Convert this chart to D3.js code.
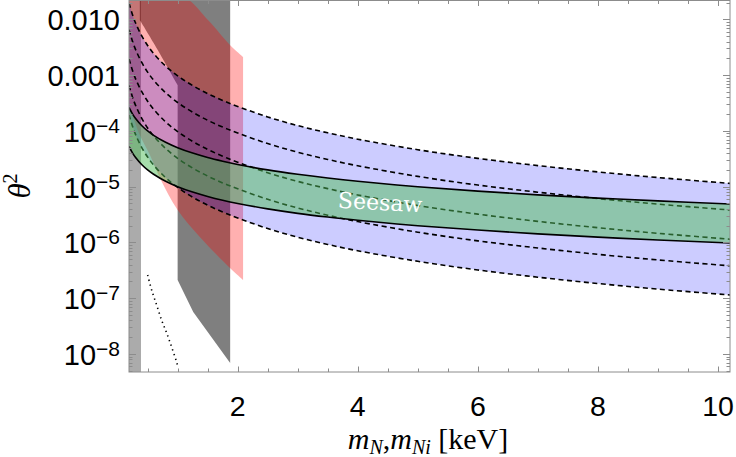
<!DOCTYPE html>
<html><head><meta charset="utf-8">
<script src="https://cdn.jsdelivr.net/npm/d3@7"></script>
<style>html,body{margin:0;padding:0;background:#fff;} svg{display:block;}</style>
</head><body><svg id="c" width="736" height="457"></svg>
<script>
// ---------------- data ----------------
const massGrid = [0.19,0.25,0.3,0.4,0.5,0.6,0.8,1.0,1.25,1.5,1.75,2,2.5,3,3.5,4,5,6,7,8,9,10.2];
const dashed1 = [0.01959,0.01194,0.00857,0.00509,0.0034,0.00244,0.00145,9.70e-4,6.49e-4,4.66e-4,3.52e-4,2.75e-4,1.78e-4,1.245e-4,9.23e-5,7.11e-5,4.60e-5,3.22e-5,2.39e-5,1.84e-5,1.46e-5,1.146e-5];
const dashed2 = [0.00653,0.00398,0.00286,0.0017,0.00113,8.13e-4,4.83e-4,3.23e-4,2.16e-4,1.55e-4,1.17e-4,9.17e-5,5.93e-5,4.15e-5,3.08e-5,2.37e-5,1.53e-5,1.07e-5,7.97e-6,6.13e-6,4.87e-6,3.82e-6];
const dashed3 = [1.959e-3,1.194e-3,8.57e-4,5.09e-4,3.40e-4,2.44e-4,1.45e-4,9.70e-5,6.49e-5,4.66e-5,3.52e-5,2.75e-5,1.78e-5,1.245e-5,9.23e-6,7.11e-6,4.60e-6,3.22e-6,2.39e-6,1.84e-6,1.46e-6,1.146e-6];
const dashed4 = [6.53e-4,3.98e-4,2.86e-4,1.70e-4,1.13e-4,8.13e-5,4.83e-5,3.23e-5,2.16e-5,1.55e-5,1.17e-5,9.17e-6,5.93e-6,4.15e-6,3.08e-6,2.37e-6,1.53e-6,1.07e-6,7.97e-7,6.13e-7,4.87e-7,3.82e-7];
const dashed5 = [1.959e-4,1.194e-4,8.57e-5,5.09e-5,3.40e-5,2.44e-5,1.45e-5,9.70e-6,6.49e-6,4.66e-6,3.52e-6,2.75e-6,1.78e-6,1.245e-6,9.23e-7,7.11e-7,4.60e-7,3.22e-7,2.39e-7,1.84e-7,1.46e-7,1.146e-7];
const seesawUpper = [2.63e-4,2.0e-4,1.67e-4,1.25e-4,1.0e-4,8.33e-5,6.25e-5,5.0e-5,4.0e-5,3.33e-5,2.86e-5,2.5e-5,2.0e-5,1.67e-5,1.43e-5,1.25e-5,1.0e-5,8.33e-6,7.14e-6,6.25e-6,5.56e-6,4.9e-6];
const seesawLower = [5.26e-5,4.0e-5,3.33e-5,2.5e-5,2.0e-5,1.67e-5,1.25e-5,1.0e-5,8.0e-6,6.67e-6,5.71e-6,5.0e-6,4.0e-6,3.33e-6,2.86e-6,2.5e-6,2.0e-6,1.67e-6,1.43e-6,1.25e-6,1.11e-6,9.8e-7];

const lightGrayBand = [0.19, 0.39];
const darkGrayShape = [[0.37,0.05],[0.37,9.7e-3],[0.62,3.47e-3],[1.0,6.64e-4],[1.0,2.13e-7],[1.26,5.67e-8],[1.875,6.9e-9],[1.875,0.05]];
const darkGrayCurved = [[0.37,9.7e-3],[0.62,3.47e-3],[1.0,6.64e-4]];
const redUpper = [[0.19,0.03],[1.1,0.025],[1.505,9.7e-3],[1.872,3.47e-3],[2.09,2.11e-3]];
const redLower = [[0.19,2.91e-4],[0.37,8.43e-5],[0.538,3.70e-5],[0.705,1.43e-5],[1.0,3.83e-6],[1.37,1.26e-6],[1.872,3.49e-7],[2.09,2.13e-7]];
const dottedLine = [[0.5,2.62e-7],[0.567,1.41e-7],[0.65,7.59e-8],[0.733,4.07e-8],[0.817,2.39e-8],[0.9,1.34e-8],[0.983,7.2e-9],[1.01,5.6e-9]];

const xTicks = [2,4,6,8,10];
const xMinorTicks = d3.range(0.5, 10.01, 0.5);
const yTicks = [1e-2,1e-3,1e-4,1e-5,1e-6,1e-7,1e-8];
const yTickBase = ["0.010","0.001","10","10","10","10","10"];
const yTickSup  = ["","","\u22124","\u22125","\u22126","\u22127","\u22128"];
const seesawLabel = "Seesaw";

// ---------------- layout ----------------
const L = 129, R = 730, T = 0.5, B = 372;
const x = d3.scaleLinear().domain([0.19, 10.2]).range([L, R]);
const y = d3.scaleLog().domain([Math.pow(10,-8.321), Math.pow(10,-1.663)]).range([B, T]);

const svg = d3.select("#c");
svg.append("defs").append("clipPath").attr("id","clip")
  .append("rect").attr("x",L).attr("y",T).attr("width",R-L).attr("height",B-T);
const g = svg.append("g").attr("clip-path","url(#clip)");

const lineCR = d3.line().x(d=>x(d[0])).y(d=>y(d[1])).curve(d3.curveCatmullRom.alpha(0.5));
const zip = arr => massGrid.map((m,i)=>[m,arr[i]]);

// light gray band
g.append("rect").attr("x",x(lightGrayBand[0])).attr("y",T)
  .attr("width",x(lightGrayBand[1])-x(lightGrayBand[0])).attr("height",B-T)
  .attr("fill","#000").attr("fill-opacity",0.33);

// dark gray shape
{
  const curved = lineCR(darkGrayCurved);
  const rest = darkGrayShape.slice(3);
  const p = "M"+x(darkGrayShape[0][0])+","+y(darkGrayShape[0][1]) + "L" + curved.slice(1) +
    rest.map(d=>"L"+x(d[0])+","+y(d[1])).join("") + "Z";
  g.append("path").attr("d",p).attr("fill","#000").attr("fill-opacity",0.5);
}

// red region
{
  const up = lineCR(redUpper);
  const lo = lineCR(redLower.slice().reverse());
  g.append("path").attr("d", up + "L" + lo.slice(1) + "Z")
    .attr("fill","rgb(255,0,0)").attr("fill-opacity",0.31);
}

// blue band between outer dashed lines
const areaCR = d3.area().x(d=>x(d[0])).y0(d=>y(d[1])).y1(d=>y(d[2])).curve(d3.curveCatmullRom.alpha(0.5));
g.append("path").attr("d", areaCR(massGrid.map((m,i)=>[m,dashed5[i],dashed1[i]])))
  .attr("fill","rgb(0,0,255)").attr("fill-opacity",0.2);

// dashed lines
[dashed1,dashed2,dashed3,dashed4,dashed5].forEach(arr=>{
  g.append("path").attr("d", lineCR(zip(arr))).attr("fill","none")
    .attr("stroke","#000").attr("stroke-width",1.6).attr("stroke-dasharray","5,3.5");
});

// seesaw green band
g.append("path").attr("d", areaCR(massGrid.map((m,i)=>[m,seesawLower[i],seesawUpper[i]])))
  .attr("fill","rgb(80,190,90)").attr("fill-opacity",0.5);
[seesawUpper, seesawLower].forEach(arr=>{
  g.append("path").attr("d", lineCR(zip(arr))).attr("fill","none")
    .attr("stroke","#000").attr("stroke-width",1.6);
});

// dotted line
g.append("path").attr("d", lineCR(dottedLine)).attr("fill","none")
  .attr("stroke","#000").attr("stroke-width",1.6).attr("stroke-dasharray","1.3,3.6");

// seesaw label
g.append("text").attr("x",380).attr("y",210)
  .attr("transform","rotate(3.2,380,205)")
  .attr("text-anchor","middle").attr("font-family","DejaVu Serif").attr("font-size",22)
  .attr("fill","#fff").text(seesawLabel);

// ---------------- frame and ticks ----------------
const axisCol = "#8c8c8c";
svg.append("rect").attr("x",L).attr("y",T).attr("width",R-L).attr("height",B-T)
  .attr("fill","none").attr("stroke",axisCol).attr("stroke-width",1);
const tk = svg.append("g").attr("stroke",axisCol).attr("stroke-width",1);
xMinorTicks.forEach(v=>{
  const major = Math.abs(v/2 - Math.round(v/2))<1e-6;
  const len = major?5.5:3.5;
  const px = Math.round(x(v))+0.5;
  tk.append("line").attr("x1",px).attr("x2",px).attr("y1",B).attr("y2",B-len);
  tk.append("line").attr("x1",px).attr("x2",px).attr("y1",T).attr("y2",T+len);
});
for (let e=-9; e<=-2; e++){
  for (let k=1;k<=9;k++){
    const v = k*Math.pow(10,e);
    if (v < y.domain()[0] || v > y.domain()[1]) continue;
    const len = k===1?7:3.5;
    const py = Math.round(y(v))+0.5;
    tk.append("line").attr("x1",L).attr("x2",L+len).attr("y1",py).attr("y2",py);
    tk.append("line").attr("x1",R).attr("x2",R-len).attr("y1",py).attr("y2",py);
  }
}

// tick labels
const fontSans = "Liberation Sans, Arial, sans-serif";
xTicks.forEach(v=>{
  svg.append("text").attr("x",x(v)).attr("y",416).attr("text-anchor","middle")
    .attr("font-family",fontSans).attr("font-size",28.5).attr("fill","#000").text(v);
});
yTicks.forEach((v,i)=>{
  const t = svg.append("text").attr("x",120).attr("y",y(v)+11).attr("text-anchor","end")
    .attr("font-family",fontSans).attr("font-size",29).attr("fill","#000");
  t.append("tspan").text(yTickBase[i]);
  if (yTickSup[i]) t.append("tspan").attr("dy",-9).attr("font-size",21).text(yTickSup[i]);
});

// axis titles
const serif = "Liberation Serif, Times New Roman, serif";
const xl = svg.append("text").attr("x",428).attr("y",449).attr("text-anchor","middle")
  .attr("font-family",serif).attr("font-size",30).attr("fill","#000");
xl.append("tspan").attr("font-style","italic").text("m");
xl.append("tspan").attr("font-style","italic").attr("font-size",20).attr("dy",5).text("N");
xl.append("tspan").attr("dy",-5).text(",");
xl.append("tspan").attr("font-style","italic").text("m");
xl.append("tspan").attr("font-style","italic").attr("font-size",20).attr("dy",5).text("Ni");
xl.append("tspan").attr("dy",-5).text(" [keV]");

const yl = svg.append("text").attr("transform","translate(30,186) rotate(-90)")
  .attr("text-anchor","middle").attr("font-family",serif).attr("font-size",31).attr("fill","#000");
yl.append("tspan").attr("font-style","italic").text("\u03b8");
yl.append("tspan").attr("font-size",20).attr("dy",-13).text("2");
</script></body></html>
